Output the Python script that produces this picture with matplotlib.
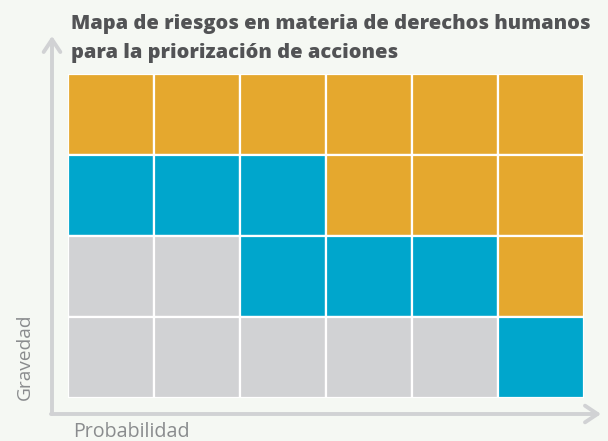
import matplotlib.pyplot as plt

# Risk matrix data: levels per row (top row first), 0=low, 1=medium, 2=high
levels = [
    [2, 2, 2, 2, 2, 2],
    [1, 1, 1, 2, 2, 2],
    [0, 0, 1, 1, 1, 2],
    [0, 0, 0, 0, 0, 1],
]
level_colors = ["#d1d2d4", "#00a6cc", "#e5a82e"]
title = "Mapa de riesgos en materia de derechos humanos\npara la priorización de acciones"
x_label = "Probabilidad"
y_label = "Gravedad"

W, H = 608, 441
bg = "#f5f8f3"
axis_gray = "#d1d2d4"
text_gray = "#8a8c8e"

fig = plt.figure(figsize=(W / 100, H / 100), dpi=100, facecolor=bg)

# grid of cells
ax = fig.add_axes([68 / W, (H - 398) / H, (584 - 68) / W, (398 - 74) / H])
ax.set_facecolor(bg)
n_rows = len(levels)
n_cols = len(levels[0])
for r, row in enumerate(levels):
    y = n_rows - 1 - r
    ax.bar(range(n_cols), [1] * n_cols, width=1, bottom=y, align="edge",
           color=[level_colors[v] for v in row], edgecolor="white", linewidth=1.6)
ax.set_xlim(0, n_cols)
ax.set_ylim(0, n_rows)
ax.axis("off")

# overlay in pixel coords for arrows and text
ov = fig.add_axes([0, 0, 1, 1], facecolor="none")
ov.set_xlim(0, W)
ov.set_ylim(H, 0)
ov.axis("off")
arrow = dict(arrowstyle="->,head_length=0.9,head_width=0.6", color=axis_gray,
             lw=2.8, shrinkA=0, shrinkB=0)
ov.annotate("", xy=(52, 36), xytext=(52, 414), arrowprops=arrow)
ov.annotate("", xy=(601, 414), xytext=(51, 414), arrowprops=arrow)

# labels
t1, t2 = title.split("\n")
ov.text(71, 29, t1, fontsize=14.4, fontweight="heavy",
        color="#525355", family="Open Sans", va="baseline")
ov.text(71, 58, t2, fontsize=14.4, fontweight="heavy",
        color="#525355", family="Open Sans", va="baseline")
ov.text(25, 357, y_label, rotation=90, fontsize=13.8, color=text_gray,
        family="Open Sans", va="center", ha="center")
ov.text(73, 432, x_label, fontsize=14.2, color=text_gray, family="Open Sans",
        va="center", ha="left")

fig.savefig("out.png", dpi=100, facecolor=bg)
